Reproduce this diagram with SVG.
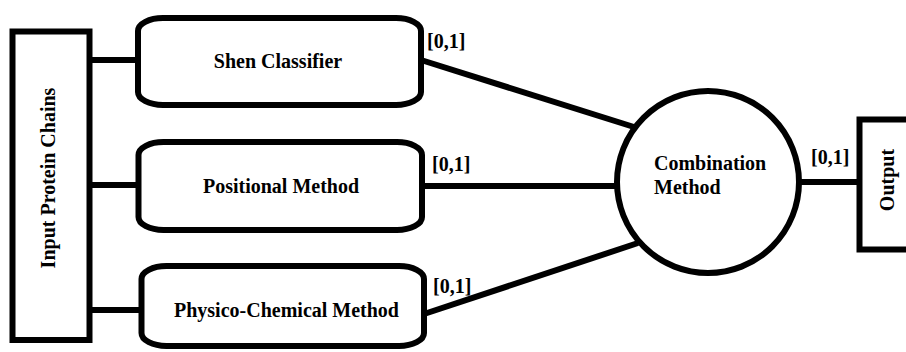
<svg xmlns="http://www.w3.org/2000/svg" width="906" height="352" viewBox="0 0 906 352">
<style>
.box{fill:#fff;stroke:#000;stroke-width:6}
.ln{stroke:#000;stroke-width:6;fill:none}
text{font-family:'Liberation Serif','DejaVu Serif',serif;font-weight:bold;font-size:20px;fill:#000}
.c{text-anchor:middle}
</style>
<rect width="906" height="352" fill="#fff"/>
<g id="connectors">
<line class="ln" x1="92" y1="60" x2="138" y2="60"/>
<line class="ln" x1="92" y1="185" x2="138" y2="185"/>
<line class="ln" x1="92" y1="310" x2="141" y2="310"/>
<line class="ln" x1="421" y1="60" x2="634" y2="127"/>
<line class="ln" x1="422" y1="186" x2="617" y2="186"/>
<line class="ln" x1="424" y1="314" x2="638" y2="243"/>
<line class="ln" x1="800" y1="182" x2="858" y2="182"/>
<text x="427" y="48">[0,1]</text>
<text x="432" y="171">[0,1]</text>
<text x="433" y="293">[0,1]</text>
<text x="811" y="164">[0,1]</text>
</g>
<g id="input">
<rect class="box" x="12.5" y="31.5" width="77" height="308.5" stroke-width="5"/>
<text class="c" transform="translate(55,178) rotate(-90)">Input Protein Chains</text>
</g>
<g id="shen">
<rect class="box" x="138" y="18" width="283" height="87" rx="25" ry="13"/>
<text class="c" x="278" y="68">Shen Classifier</text>
</g>
<g id="positional">
<rect class="box" x="138.5" y="142" width="283.5" height="88" rx="25" ry="13"/>
<text class="c" x="281" y="193">Positional Method</text>
</g>
<g id="physico">
<rect class="box" x="141.5" y="266" width="282.5" height="80" rx="25" ry="13"/>
<text class="c" x="286.5" y="317">Physico-Chemical Method</text>
</g>
<g id="combination">
<circle class="box" cx="708" cy="182" r="91" stroke-width="5.5"/>
<text x="654" y="170">Combination</text>
<text x="654" y="194">Method</text>
</g>
<g id="output">
<rect class="box" x="859.5" y="119.5" width="60" height="130" stroke-width="5"/>
<text class="c" transform="translate(894,180) rotate(-90)">Output</text>
</g>
</svg>
